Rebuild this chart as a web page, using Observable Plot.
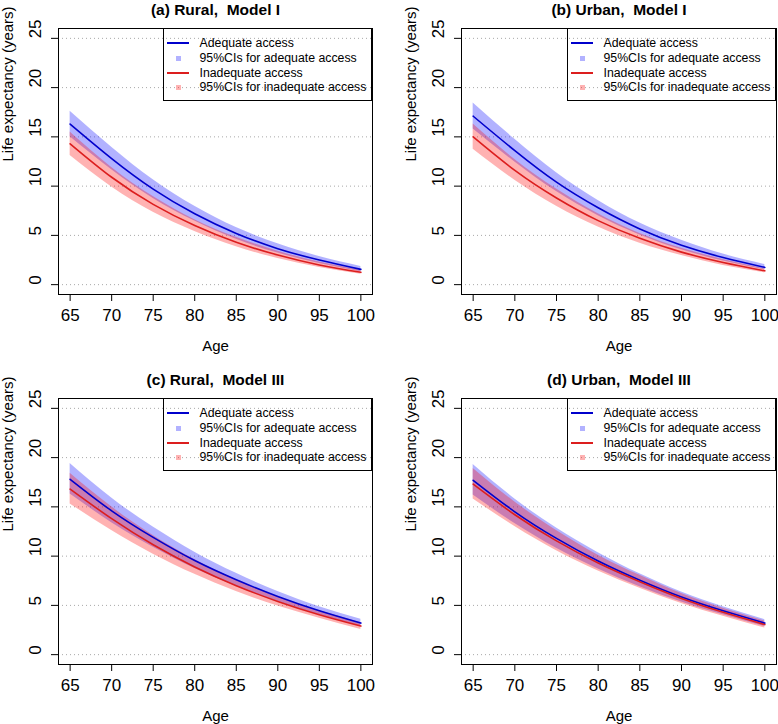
<!DOCTYPE html>
<html>
<head>
<meta charset="utf-8">
<script src="https://cdn.jsdelivr.net/npm/d3@7"></script>
<script src="https://cdn.jsdelivr.net/npm/@observablehq/plot@0.6"></script>
<style>
  html, body { margin: 0; padding: 0; background: #fff; }
  #root { position: relative; width: 778px; height: 724px; overflow: hidden; font-family: "Liberation Sans", Arial, Helvetica, sans-serif; }
  #root svg { position: absolute; overflow: visible; }
  .legend { position: absolute; border: 1px solid #000; box-sizing: border-box; }
  .legend .t { position: absolute; font-size: 12.3px; line-height: 1; white-space: nowrap; color: #000; }
  .legend .ln { position: absolute; height: 2px; }
  .legend .sq { position: absolute; width: 5px; height: 5px; }
</style>
</head>
<body>
<div id="root"></div>
<script>
// ---------- data ----------
const ages = [65, 70, 75, 80, 85, 90, 95, 100];
const xTicks = [65, 70, 75, 80, 85, 90, 95, 100];
const yTicks = [0, 5, 10, 15, 20, 25];
const panelTitles = ["(a) Rural,  Model I", "(b) Urban,  Model I", "(c) Rural,  Model III", "(d) Urban,  Model III"];
const legendLabels = ["Adequate access", "95%CIs for adequate access", "Inadequate access", "95%CIs for inadequate access"];

// (a) Rural, Model I
const ruralI_adequate     = [16.3, 12.8, 9.7, 7.2, 5.2, 3.65, 2.5, 1.55];
const ruralI_adequate_hi  = [17.6, 13.95, 10.65, 7.95, 5.8, 4.15, 2.85, 1.85];
const ruralI_adequate_lo  = [15.0, 11.65, 8.75, 6.45, 4.6, 3.2, 2.15, 1.3];
const ruralI_inadequate    = [14.3, 10.9, 8.15, 6.0, 4.3, 3.0, 2.0, 1.25];
const ruralI_inadequate_hi = [15.5, 11.9, 8.95, 6.6, 4.8, 3.4, 2.3, 1.45];
const ruralI_inadequate_lo = [13.1, 9.9, 7.35, 5.4, 3.85, 2.65, 1.75, 1.05];

// (b) Urban, Model I
const urbanI_adequate     = [17.1, 13.6, 10.4, 7.8, 5.65, 4.0, 2.75, 1.75];
const urbanI_adequate_hi  = [18.45, 14.75, 11.35, 8.55, 6.25, 4.5, 3.1, 2.05];
const urbanI_adequate_lo  = [15.8, 12.45, 9.45, 7.0, 5.05, 3.55, 2.4, 1.5];
const urbanI_inadequate    = [15.0, 11.6, 8.8, 6.5, 4.7, 3.3, 2.25, 1.4];
const urbanI_inadequate_hi = [16.3, 12.7, 9.7, 7.2, 5.2, 3.7, 2.55, 1.6];
const urbanI_inadequate_lo = [13.75, 10.6, 7.95, 5.85, 4.2, 2.95, 1.95, 1.2];

// (c) Rural, Model III
const ruralIII_adequate     = [17.8, 14.6, 11.9, 9.55, 7.6, 5.9, 4.45, 3.2];
const ruralIII_adequate_hi  = [19.4, 15.9, 12.95, 10.4, 8.25, 6.4, 4.85, 3.6];
const ruralIII_adequate_lo  = [16.3, 13.4, 10.9, 8.75, 6.95, 5.4, 4.05, 2.85];
const ruralIII_inadequate    = [16.8, 13.8, 11.15, 8.9, 7.0, 5.4, 4.05, 2.9];
const ruralIII_inadequate_hi = [18.4, 15.0, 12.1, 9.65, 7.6, 5.85, 4.45, 3.25];
const ruralIII_inadequate_lo = [15.3, 12.6, 10.2, 8.15, 6.4, 4.95, 3.7, 2.55];

// (d) Urban, Model III
const urbanIII_adequate     = [17.7, 14.5, 11.8, 9.5, 7.55, 5.85, 4.45, 3.2];
const urbanIII_adequate_hi  = [19.3, 15.8, 12.85, 10.35, 8.2, 6.35, 4.85, 3.55];
const urbanIII_adequate_lo  = [16.2, 13.3, 10.8, 8.7, 6.9, 5.35, 4.05, 2.85];
const urbanIII_inadequate    = [17.3, 14.2, 11.55, 9.3, 7.4, 5.7, 4.3, 3.05];
const urbanIII_inadequate_hi = [18.9, 15.5, 12.6, 10.1, 8.05, 6.2, 4.7, 3.4];
const urbanIII_inadequate_lo = [15.8, 13.0, 10.55, 8.5, 6.75, 5.2, 3.9, 2.7];

// ---------- styles ----------
const blueLine = "#0000cc", redLine = "#dc1e1e";
const blueFill = "#0000ff", redFill = "#ff0000", fillOp = 0.3;
const FONT = "'Liberation Sans', Arial, Helvetica, sans-serif";

const panels = [
  {title: panelTitles[0], a: ruralI_adequate, ahi: ruralI_adequate_hi, alo: ruralI_adequate_lo, i: ruralI_inadequate, ihi: ruralI_inadequate_hi, ilo: ruralI_inadequate_lo, left: 0, top: 0, ml: 58, mr: 17},
  {title: panelTitles[1], a: urbanI_adequate, ahi: urbanI_adequate_hi, alo: urbanI_adequate_lo, i: urbanI_inadequate, ihi: urbanI_inadequate_hi, ilo: urbanI_inadequate_lo, left: 389, top: 0, ml: 72, mr: 2},
  {title: panelTitles[2], a: ruralIII_adequate, ahi: ruralIII_adequate_hi, alo: ruralIII_adequate_lo, i: ruralIII_inadequate, ihi: ruralIII_inadequate_hi, ilo: ruralIII_inadequate_lo, left: 0, top: 370, ml: 58, mr: 17},
  {title: panelTitles[3], a: urbanIII_adequate, ahi: urbanIII_adequate_hi, alo: urbanIII_adequate_lo, i: urbanIII_inadequate, ihi: urbanIII_inadequate_hi, ilo: urbanIII_inadequate_lo, left: 389, top: 370, ml: 72, mr: 2}
];

const root = document.getElementById("root");
const W = 389, H = 354, MT = 28, MB = 60;

for (const p of panels) {
  const rows = ages.map((age, k) => ({age, a: p.a[k], ahi: p.ahi[k], alo: p.alo[k], i: p.i[k], ihi: p.ihi[k], ilo: p.ilo[k]}));
  const svg = Plot.plot({
    width: W, height: H,
    marginLeft: p.ml, marginRight: p.mr, marginTop: MT, marginBottom: MB,
    x: {domain: [63.6, 101.4]},
    y: {domain: [-1, 26]},
    style: {fontFamily: FONT, background: "transparent", color: "#000"},
    marks: [
      Plot.gridY(yTicks, {stroke: "#a8a8a8", strokeOpacity: 1, strokeWidth: 1, strokeDasharray: "1,3"}),
      Plot.areaY(rows, {x: "age", y1: "alo", y2: "ahi", fill: blueFill, fillOpacity: fillOp, curve: "natural"}),
      Plot.areaY(rows, {x: "age", y1: "ilo", y2: "ihi", fill: redFill, fillOpacity: fillOp, curve: "natural"}),
      Plot.lineY(rows, {x: "age", y: "a", stroke: blueLine, strokeWidth: 1.6, curve: "natural"}),
      Plot.lineY(rows, {x: "age", y: "i", stroke: redLine, strokeWidth: 1.6, curve: "natural"}),
      Plot.frame({stroke: "#000", strokeWidth: 1}),
      Plot.axisX(xTicks, {tickSize: 7, tickPadding: 7, fontSize: 17, label: null}),
      Plot.axisY(yTicks, {tickSize: 7, tickFormat: () => "", label: null}),
      Plot.text(yTicks, {y: d => d, text: d => String(d), frameAnchor: "left", dx: -23, rotate: -90, fontSize: 17}),
      Plot.text([p.title], {frameAnchor: "top", dy: -18, fontSize: 15.5, fontWeight: "bold", lineAnchor: "middle"}),
      Plot.text(["Age"], {frameAnchor: "bottom", dy: 52, fontSize: 15, lineAnchor: "middle"}),
      Plot.text(["Life expectancy (years)"], {frameAnchor: "left", dx: -50.5, rotate: -90, fontSize: 15, lineAnchor: "middle"})
    ]
  });
  svg.style.left = p.left + "px";
  svg.style.top = p.top + "px";
  root.appendChild(svg);

  // legend (top-right inside the frame)
  const lgW = 209.5, lgH = 73;
  const lg = document.createElement("div");
  lg.className = "legend";
  lg.style.left = (p.left + W - p.mr - lgW) + "px";
  lg.style.top = (p.top + MT) + "px";
  lg.style.width = lgW + "px";
  lg.style.height = lgH + "px";
  const kinds = [
    {type: "line", color: blueLine},
    {type: "sq", color: "rgba(0,0,255,0.3)"},
    {type: "line", color: redLine},
    {type: "sq", color: "rgba(255,0,0,0.3)"}
  ];
  legendLabels.forEach((lab, k) => {
    const cy = 14.4 + k * 14.85;
    const kd = kinds[k];
    const sym = document.createElement("div");
    if (kd.type === "line") {
      sym.className = "ln";
      sym.style.left = "3px"; sym.style.width = "22.6px";
      sym.style.top = Math.round(cy - 1) + "px";
      sym.style.background = kd.color;
    } else {
      sym.className = "sq";
      sym.style.left = "12px";
      sym.style.top = Math.round(cy - 2.5) + "px";
      sym.style.background = kd.color;
    }
    lg.appendChild(sym);
    const t = document.createElement("div");
    t.className = "t";
    t.textContent = lab;
    t.style.left = "36px";
    t.style.top = (cy - 6.6) + "px";
    lg.appendChild(t);
  });
  root.appendChild(lg);
}
</script>
</body>
</html>
